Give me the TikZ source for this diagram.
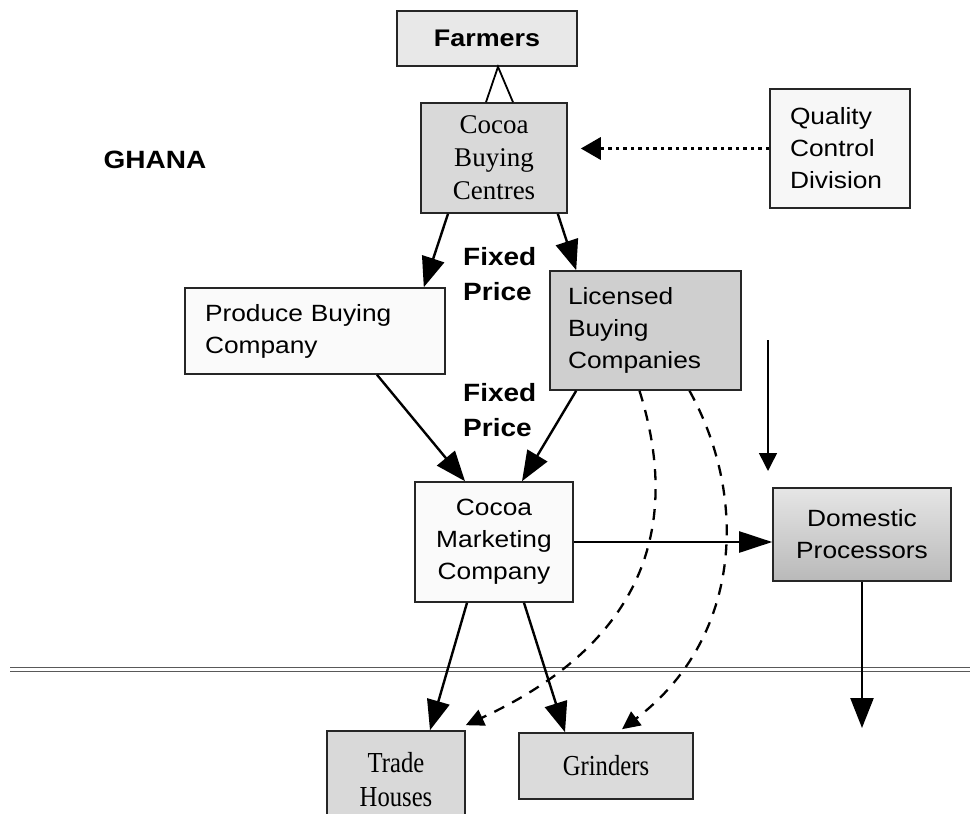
\documentclass[tikz,border=0pt]{standalone}
\usepackage{fontspec}
\setmainfont{Liberation Sans}[FakeStretch=1.12]
\newfontfamily\cbcserif{Liberation Serif}
\newfontfamily\thinserif{Liberation Serif}[FakeStretch=0.85]
\usetikzlibrary{arrows.meta,positioning}

\begin{document}
\begin{tikzpicture}[x=1pt,y=-1pt,
    box/.style={draw=black!85,line width=1.6pt,inner sep=0pt,align=center,font=\fontsize{23.5}{32}\selectfont},
    flow/.style={line width=2.4pt,-{Triangle[length=30pt,width=23pt]}},
    trade/.style={line width=2.3pt,dash pattern=on 11pt off 9pt,-{Triangle[length=18pt,width=17pt]}},
    tag/.style={font=\bfseries\fontsize{25}{35}\selectfont,align=left,inner sep=0pt}]
    \useasboundingbox (0,0) rectangle (970,814);

    \node[box,fill=gray!18,minimum width=180pt,minimum height=55pt,font=\bfseries\fontsize{24}{30}\selectfont] (farmers) at (487,38.5) {Farmers};
    \node[box,fill=gray!30,minimum width=146pt,minimum height=110pt,font=\cbcserif\fontsize{27}{33}\selectfont] (cbc) at (494,158) {Cocoa\\Buying\\Centres};
    \node[box,fill=gray!6,minimum width=140pt,minimum height=119pt,text width=100pt,inner xsep=20pt,align=left] (qcd) at (840,148.5) {Quality\\Control\\Division};

    \node[box,fill=gray!4,minimum width=260pt,minimum height=86pt,text width=220pt,inner xsep=20pt,align=left] (pbc) at (315,331) {Produce Buying\\Company};
    \node[box,fill=gray!38,minimum width=191pt,minimum height=119pt,text width=155pt,inner xsep=18pt,align=left] (lbc) at (645.5,330.5) {Licensed\\Buying\\Companies};

    \node[box,fill=gray!4,minimum width=158pt,minimum height=120pt] (cmc) at (494,542) {Cocoa\\Marketing\\Company};
    \node[box,top color=gray!20,bottom color=gray!55,minimum width=178pt,minimum height=93pt] (dp) at (862,534.5) {Domestic\\Processors};

    \node[box,fill=gray!30,minimum width=138pt,minimum height=98pt,font=\thinserif\fontsize{29}{34}\selectfont] (th) at (396,780) {Trade\\Houses};
    \node[box,fill=gray!28,minimum width=174pt,minimum height=66pt,font=\thinserif\fontsize{29}{34}\selectfont] (gr) at (606,766) {Grinders};

    \node[tag] (ghana) at (155,160) {GHANA};
    \node[tag,anchor=west] (price1) at (463,274) {Fixed\\Price};
    \node[tag,anchor=west] (price2) at (463,410) {Fixed\\Price};

    \coordinate (vtop) at (768,340);
    \coordinate (vbot) at (768,471);
    \coordinate (exportend) at (862,728);
    \coordinate (borderL) at (10,669);
    \coordinate (borderR) at (970,669);

    \draw[line width=1.8pt] ([xshift=-8pt]cbc.north) -- ([xshift=11pt]farmers.south) -- ([xshift=19pt]cbc.north);
    \draw[line width=3.5pt,dash pattern=on 3.5pt off 4pt,shorten >=13pt,-{Triangle[length=20pt,width=22pt]}] (qcd.west) -- (qcd.west -| cbc.east);

    \draw[flow] ([xshift=-46pt]cbc.south) -- ([xshift=-22pt]pbc.north east);
    \draw[flow] ([xshift=-10pt]cbc.south east) -- ([xshift=27pt]lbc.north west);
    \draw[flow] ([xshift=62pt]pbc.south) -- ([xshift=-29pt]cmc.north);
    \draw[flow] ([xshift=27pt]lbc.south west) -- ([xshift=28pt]cmc.north);
    \draw[flow,-{Triangle[length=33pt,width=21pt]}] (cmc.east) -- (cmc.east -| dp.west);
    \draw[line width=1.5pt,-{Triangle[length=18pt,width=18pt]}] (vtop) -- (vbot);

    \draw[double=white,double distance=3pt,line width=1pt,draw=black!65] (borderL) -- (borderR);

    \draw[flow] (dp.south) -- (exportend);
    \draw[flow] ([xshift=-27pt]cmc.south) -- ([xshift=34pt]th.north);
    \draw[flow] ([xshift=30pt]cmc.south) -- ([xshift=-41pt]gr.north);
    \draw[trade] ([xshift=-6pt]lbc.south) .. controls (680,520) and (650,640) .. ([yshift=5pt]th.north east);
    \draw[trade] ([xshift=44pt]lbc.south) .. controls (750,500) and (740,640) .. ([xshift=16pt,yshift=3pt]gr.north);
\end{tikzpicture}
\end{document}
